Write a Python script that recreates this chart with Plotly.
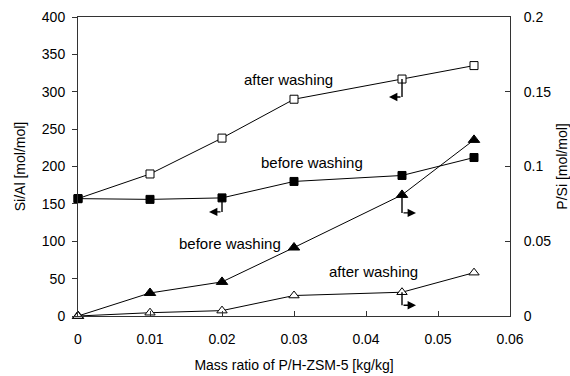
import plotly.graph_objects as go

# P loading of P/H-ZSM-5 (mass ratio, kg/kg)
mass_ratio = [0, 0.01, 0.02, 0.03, 0.045, 0.055]

# Si/Al ratio [mol/mol] (left axis)
si_al_before = [157, 156, 158, 180, 188, 212]
si_al_after = [157, 190, 238, 290, 317, 335]

# P/Si ratio [mol/mol] (right axis)
p_si_before = [0.0, 0.0154, 0.0228, 0.0458, 0.081, 0.1178]
p_si_after = [0.0, 0.0022, 0.0036, 0.0137, 0.0159, 0.029]

# Tick labels
x_ticks = [0, 0.01, 0.02, 0.03, 0.04, 0.05, 0.06]
x_tick_text = ["0", "0.01", "0.02", "0.03", "0.04", "0.05", "0.06"]
y_ticks = [0, 50, 100, 150, 200, 250, 300, 350, 400]
y2_ticks = [0, 0.05, 0.1, 0.15, 0.2]
y2_tick_text = ["0", "0.05", "0.1", "0.15", "0.2"]

FONT = "Liberation Sans, Arial, sans-serif"
INK = "black"

fig = go.Figure()

def add_series(y, symbol, open_marker, yaxis, size):
    fig.add_trace(go.Scatter(
        x=mass_ratio, y=y, mode="lines+markers", yaxis=yaxis,
        line=dict(color=INK, width=1),
        marker=dict(symbol=symbol, size=size,
                    color="white" if open_marker else INK,
                    line=dict(color=INK, width=1)),
        showlegend=False, cliponaxis=False,
    ))

add_series(si_al_after, "square", True, "y", 8)
add_series(si_al_before, "square", False, "y", 8)
add_series(p_si_before, "triangle-up", False, "y2", 10)
add_series(p_si_after, "triangle-up", True, "y2", 9)

# Bent arrows pointing each series to its own axis
def bent_arrow(xv, yv, yref, drop, run):
    fig.add_shape(type="line", xref="x", yref=yref,
                  xsizemode="pixel", ysizemode="pixel",
                  xanchor=xv, yanchor=yv,
                  x0=0, x1=0, y0=0, y1=-drop,
                  line=dict(color=INK, width=1.4))
    fig.add_annotation(x=xv, y=yv, xref="x", yref=yref, text="",
                       showarrow=True, arrowhead=2, arrowsize=1.2,
                       arrowwidth=1.4, arrowcolor=INK,
                       xshift=run, yshift=-drop, ax=-run, ay=0)

bent_arrow(mass_ratio[4], si_al_after[4], "y", 18, -13)
bent_arrow(mass_ratio[2], si_al_before[2], "y", 14, -13)
bent_arrow(mass_ratio[4], p_si_before[4], "y2", 18, 14)
bent_arrow(mass_ratio[4], p_si_after[4], "y2", 13, 14)

# Series labels
labels = [
    ("after washing", 0.0293, 317, "y"),
    ("before washing", 0.0325, 205, "y"),
    ("before washing", 0.0211, 0.0485, "y2"),
    ("after washing", 0.0410, 0.0295, "y2"),
]
for txt, xv, yv, yr in labels:
    fig.add_annotation(x=xv, y=yv, xref="x", yref=yr, text=txt,
                       showarrow=False, font=dict(size=15, color=INK, family=FONT))

axis_common = dict(showgrid=False, zeroline=False, showline=True,
                   linecolor="#333", linewidth=1, ticklen=5, automargin=False,
                   tickcolor="#333", tickfont=dict(size=14, color=INK, family=FONT),
                   title_font=dict(size=14, color=INK, family=FONT))

fig.update_layout(
    width=570, height=376,
    margin=dict(l=78, r=60, t=17, b=60),
    paper_bgcolor="white", plot_bgcolor="white",
    xaxis=dict(range=[0, 0.06], tickvals=x_ticks, ticktext=x_tick_text,
               tickangle=0, ticks="inside", mirror=True, ticklabelstandoff=10,
               title=dict(text="Mass ratio of P/H-ZSM-5 [kg/kg]", standoff=14),
               **axis_common),
    yaxis=dict(range=[0, 400], tickvals=y_ticks, ticks="outside", ticklabelstandoff=4,
               title=dict(text="Si/Al [mol/mol]", standoff=12),
               **axis_common),
    yaxis2=dict(range=[0, 0.2], tickvals=y2_ticks, ticktext=y2_tick_text,
                ticks="inside", overlaying="y", side="right", ticklabelstandoff=10,
                title=dict(text="P/Si [mol/mol]", standoff=10),
                **axis_common),
)

fig.write_html("out.html")
